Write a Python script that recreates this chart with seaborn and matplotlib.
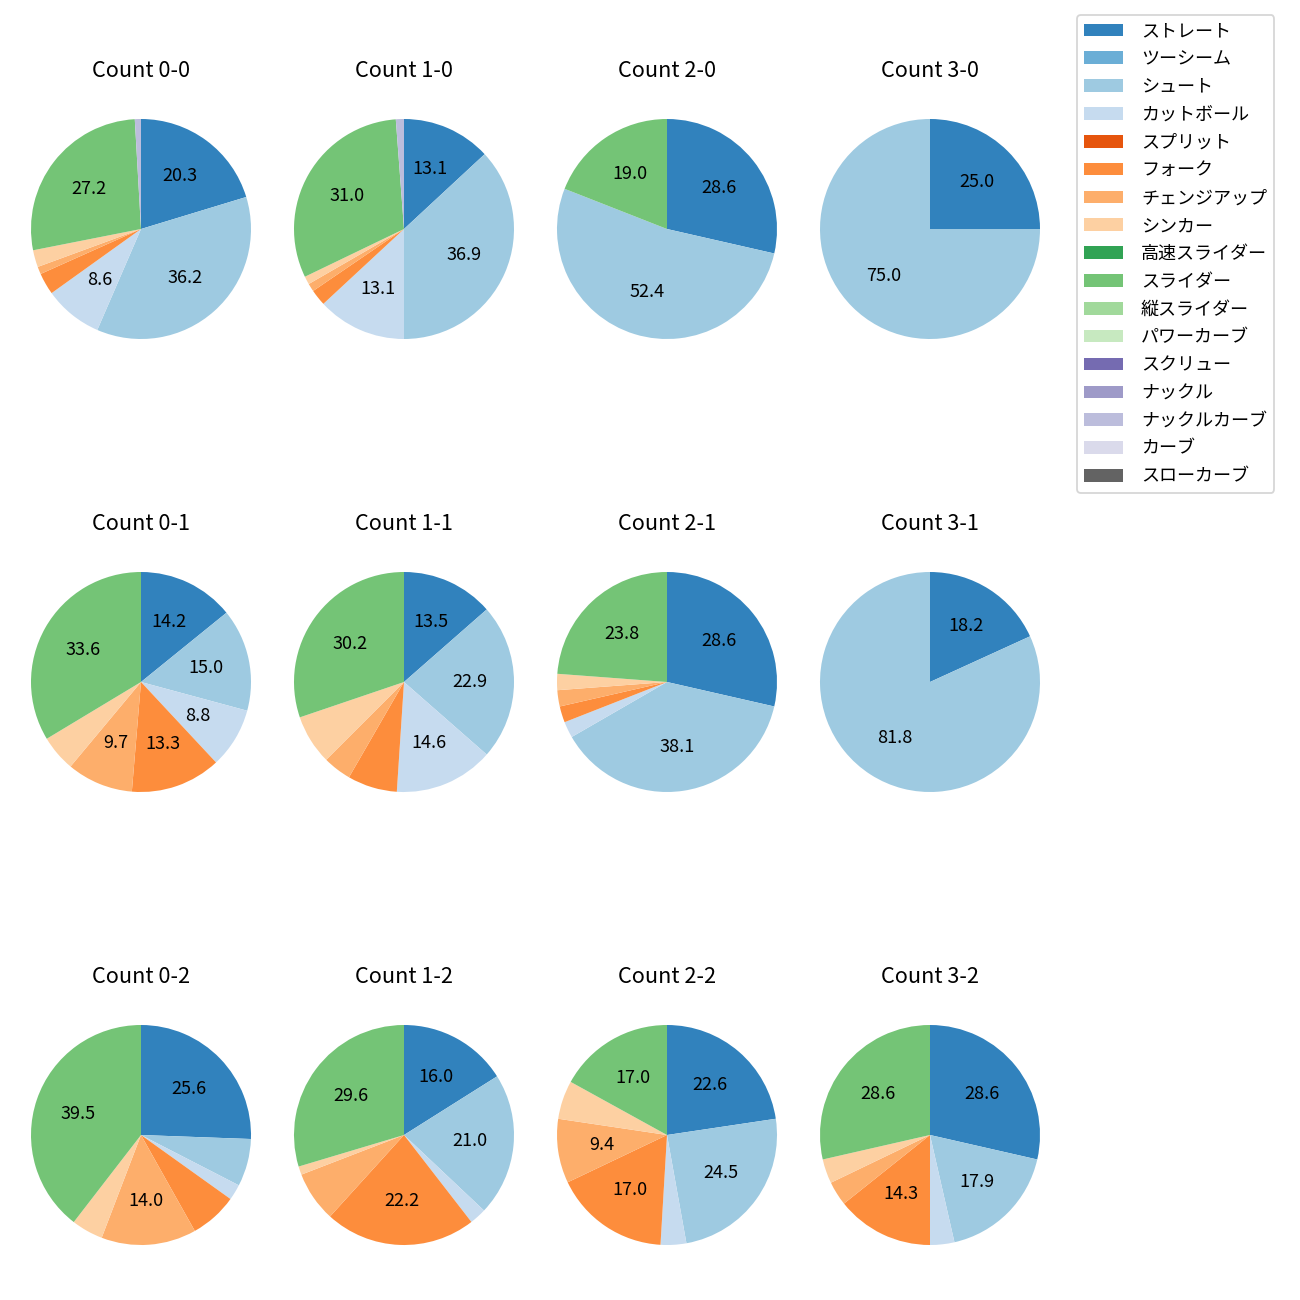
import matplotlib
matplotlib.use('Agg')
import matplotlib.pyplot as plt
from matplotlib.patches import Patch
import seaborn as sns

plt.rcParams['font.family'] = ['Noto Sans CJK JP', 'DejaVu Sans']

# 球種
pitch_types = ['ストレート', 'ツーシーム', 'シュート', 'カットボール', 'スプリット', 'フォーク',
               'チェンジアップ', 'シンカー', '高速スライダー', 'スライダー', '縦スライダー',
               'パワーカーブ', 'スクリュー', 'ナックル', 'ナックルカーブ', 'カーブ', 'スローカーブ']

# カウント別の球数 (球種の並びは pitch_types と同じ)
count_0_0 = [20.3, 0, 36.2, 8.6, 0, 3.2, 1.1, 2.5, 0, 27.2, 0, 0, 0, 0, 0.9, 0, 0]
count_1_0 = [11, 0, 31, 11, 0, 2, 1, 1, 0, 26, 0, 0, 0, 0, 1, 0, 0]
count_2_0 = [6, 0, 11, 0, 0, 0, 0, 0, 0, 4, 0, 0, 0, 0, 0, 0, 0]
count_3_0 = [1, 0, 3, 0, 0, 0, 0, 0, 0, 0, 0, 0, 0, 0, 0, 0, 0]
count_0_1 = [16, 0, 17, 10, 0, 15, 11, 6, 0, 38, 0, 0, 0, 0, 0, 0, 0]
count_1_1 = [13, 0, 22, 14, 0, 7, 4, 7, 0, 29, 0, 0, 0, 0, 0, 0, 0]
count_2_1 = [12, 0, 16, 1, 0, 1, 1, 1, 0, 10, 0, 0, 0, 0, 0, 0, 0]
count_3_1 = [2, 0, 9, 0, 0, 0, 0, 0, 0, 0, 0, 0, 0, 0, 0, 0, 0]
count_0_2 = [11, 0, 3, 1, 0, 3, 6, 2, 0, 17, 0, 0, 0, 0, 0, 0, 0]
count_1_2 = [13, 0, 17, 2, 0, 18, 6, 1, 0, 24, 0, 0, 0, 0, 0, 0, 0]
count_2_2 = [12, 0, 13, 2, 0, 9, 5, 3, 0, 9, 0, 0, 0, 0, 0, 0, 0]
count_3_2 = [8, 0, 5, 1, 0, 4, 1, 1, 0, 8, 0, 0, 0, 0, 0, 0, 0]

counts = {
    (0, 0): count_0_0, (1, 0): count_1_0, (2, 0): count_2_0, (3, 0): count_3_0,
    (0, 1): count_0_1, (1, 1): count_1_1, (2, 1): count_2_1, (3, 1): count_3_1,
    (0, 2): count_0_2, (1, 2): count_1_2, (2, 2): count_2_2, (3, 2): count_3_2,
}

paleta = sns.color_palette('tab20c', 20)
colores = paleta[:17]

fig = plt.figure(figsize=(10, 10), dpi=130)
lado = 275 / 1300

for (bolas, strikes), valores in counts.items():
    cx = 141 + 263 * bolas
    cy = 229 + 453 * strikes
    ax = fig.add_axes([(cx - 137.5) / 1300, 1 - (cy + 137.5) / 1300, lado, lado])
    vals = [v for v in valores if v > 0]
    cols = [colores[i] for i, v in enumerate(valores) if v > 0]
    ax.pie(vals, colors=cols, startangle=90, counterclock=False,
           autopct=lambda p: f'{p:.1f}' if p >= 8 else '')
    ax.set_title(f'Count {bolas}-{strikes}', pad=8.2)

handles = [Patch(facecolor=colores[i], label=pitch_types[i]) for i in range(len(pitch_types))]
fig.legend(handles=handles, loc='upper left', bbox_to_anchor=(1077 / 1300, 1 - 15 / 1300),
           borderaxespad=0, handlelength=2.15, handletextpad=1.0, labelspacing=0.545)

plt.savefig('out.png')
